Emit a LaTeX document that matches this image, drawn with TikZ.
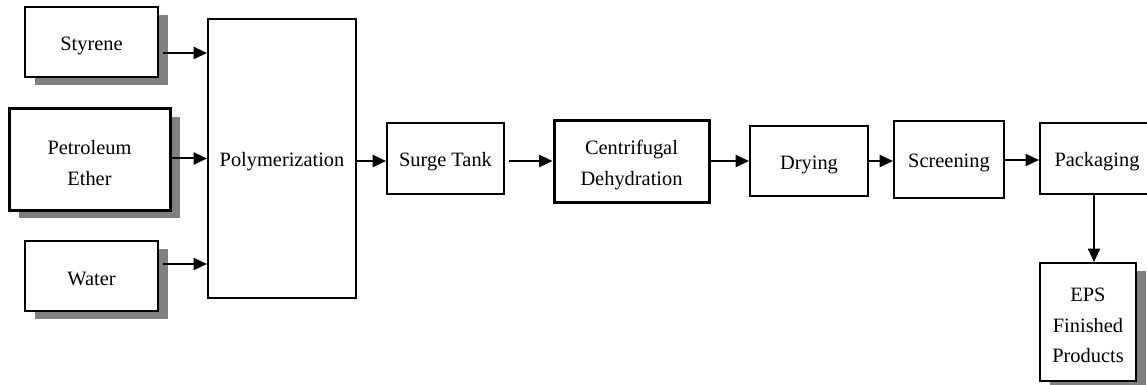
\documentclass[tikz,border=0pt]{standalone}
\usepackage{fontspec}
\setmainfont{Liberation Serif}
\usetikzlibrary{arrows.meta,shadows,calc}
\begin{document}
\begin{tikzpicture}[x=0.75pt,y=-0.75pt,
  box/.style={draw,line width=1.5pt,fill=white,inner sep=0pt},
  txt/.style={align=center,inner sep=0pt,yshift=-2.6pt,
    font=\fontsize{15.3}{23}\selectfont},
  thickbox/.style={box,line width=2.25pt},
  shadowed/.style={drop shadow={shadow xshift=7.5pt,shadow yshift=-6pt,fill=black!50,opacity=1}},
  flow/.style={line width=1.5pt,-{Triangle[length=10pt,width=9pt]}}]
\useasboundingbox (0,0) rectangle (1147,385);
\clip (0,0) rectangle (1147,385);
\node[box,shadowed,minimum width=99.75pt,minimum height=52.5pt,label={[txt]center:Styrene}] (sty) at (91.5,42) {};
\node[thickbox,shadowed,minimum width=120.75pt,minimum height=75.75pt,label={[txt]center:Petroleum\\Ether}] (pet) at (89.5,159.5) {};
\node[box,shadowed,minimum width=99.75pt,minimum height=52.5pt,label={[txt]center:Water}] (wat) at (91.5,276) {};
\node[box,minimum width=111pt,minimum height=209.25pt,label={[txt]center:Polymerization}] (poly) at (282,158.5) {};
\node[box,minimum width=87.75pt,minimum height=53.25pt,label={[txt]center:Surge Tank}] (surge) at (445.5,158.5) {};
\node[thickbox,minimum width=116.25pt,minimum height=60.75pt,label={[txt]center:Centrifugal\\Dehydration}] (cent) at (631.5,161.5) {};
\node[box,minimum width=88.5pt,minimum height=52.5pt,label={[txt]center:Drying}] (dry) at (809,161) {};
\node[box,minimum width=82.5pt,minimum height=57.75pt,label={[txt]center:Screening}] (scr) at (949,159.5) {};
\node[box,minimum width=85.5pt,minimum height=53.25pt,label={[txt]center:Packaging}] (pack) at (1097,158.5) {};
\node[box,shadowed,minimum width=72pt,minimum height=88.5pt,label={[txt]center:EPS\\Finished\\Products}] (eps) at (1088,322) {};
\coordinate (ys) at (0,53);
\coordinate (yw) at (0,264);
\coordinate (ym) at (0,161);
\draw[flow] ($(sty.east |- ys)+(4,0)$) -- (poly.west |- ys);
\draw[flow] (pet.east |- poly.west) -- (poly.west);
\draw[flow] ($(wat.east |- yw)+(4,0)$) -- (poly.west |- yw);
\draw[flow] (poly.east |- ym) -- (surge.west |- ym);
\draw[flow] ($(surge.east |- ym)+(4,0)$) -- (cent.west |- ym);
\draw[flow] (cent.east |- ym) -- (dry.west |- ym);
\draw[flow] (dry.east |- ym) -- (scr.west |- ym);
\draw[flow] (scr.east |- 0,160) -- (pack.west |- 0,160);
\draw[flow] ($(pack.south)+(-3,0)$) -- ($(pack.south |- eps.north)+(-3,0)$);
\end{tikzpicture}
\end{document}
